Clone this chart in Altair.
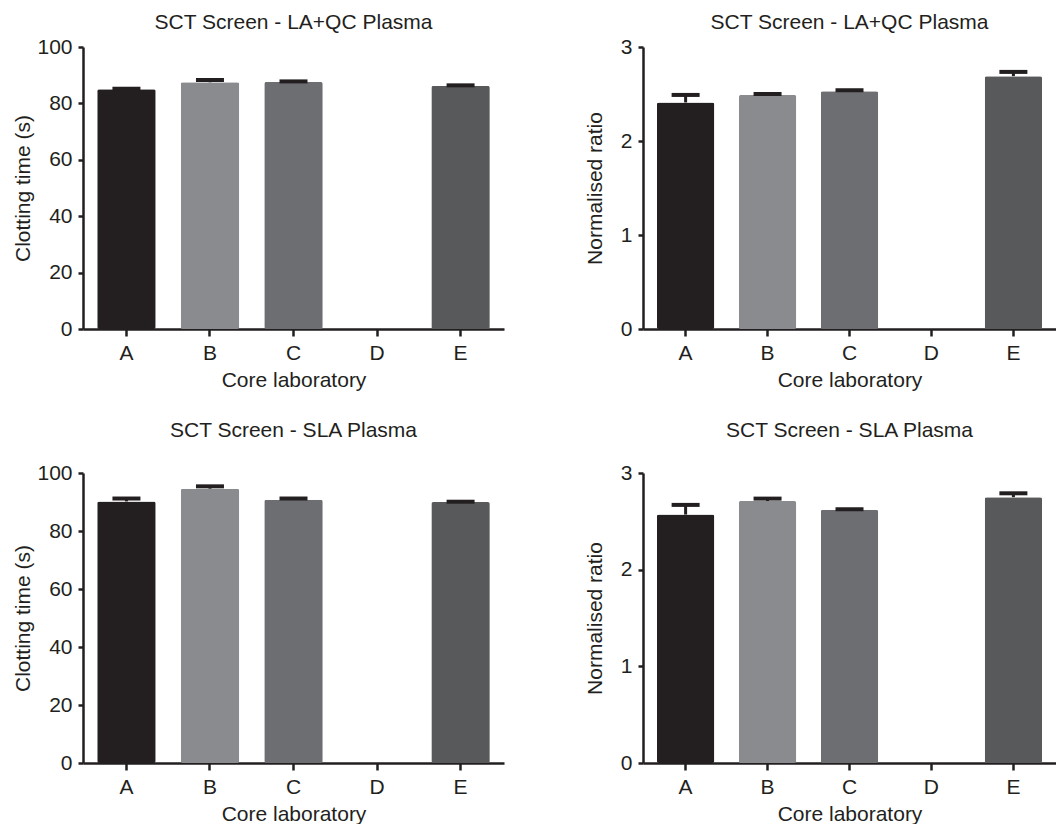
import altair as alt
import pandas as pd

labs = ["A", "B", "C", "D", "E"]
colors = ["#231f20", "#8a8b8f", "#6d6e72", "#ffffff", "#58595b"]

ct_laqc_mean = [85.0, 87.5, 87.6, None, 86.2]
ct_laqc_err = [0.2, 0.8, 0.2, None, 0.2]
nr_laqc_mean = [2.41, 2.49, 2.53, None, 2.69]
nr_laqc_err = [0.08, 0.01, 0.01, None, 0.045]
ct_sla_mean = [90.2, 94.6, 90.8, None, 90.0]
ct_sla_err = [1.0, 0.8, 0.4, None, 0.1]
nr_sla_mean = [2.57, 2.71, 2.62, None, 2.75]
nr_sla_err = [0.10, 0.025, 0.005, None, 0.04]

ct_ticks = [0, 20, 40, 60, 80, 100]
nr_ticks = [0, 1, 2, 3]

INK = "#231f20"
FONT = "Liberation Sans"


def panel(title, mean, err, ytitle, ymax, yvals, w, h, toff, tpad):
    df = pd.DataFrame({"lab": labs, "mean": mean, "err": err})
    df["upper"] = df["mean"] + df["err"]
    x = alt.X(
        "lab:N",
        scale=alt.Scale(domain=labs, paddingInner=0.3, paddingOuter=0.17),
        axis=alt.Axis(title="Core laboratory", labelAngle=0),
    )
    yscale = alt.Scale(domain=[0, ymax], nice=False)
    base = alt.Chart(df)
    bars = base.mark_bar(cornerRadius=2).encode(
        x=x,
        y=alt.Y("mean:Q", scale=yscale,
                axis=alt.Axis(title=ytitle, values=yvals, format="d", titlePadding=tpad)),
        color=alt.Color("lab:N", scale=alt.Scale(domain=labs, range=colors), legend=None),
    )
    stem = base.mark_rule(strokeWidth=3, color=INK).encode(
        x=x, y=alt.Y("mean:Q", scale=yscale), y2="upper:Q"
    )
    cap = base.mark_tick(orient="horizontal", size=28, thickness=4, color=INK, opacity=1).encode(
        x=x, y=alt.Y("upper:Q", scale=yscale)
    )
    return alt.layer(bars, stem, cap).properties(
        width=w, height=h, title=alt.TitleParams(title, offset=toff)
    )


p1 = panel("SCT Screen - LA+QC Plasma", ct_laqc_mean, ct_laqc_err, "Clotting time (s)", 100, ct_ticks, 421, 282, 3, 3)
p2 = panel("SCT Screen - LA+QC Plasma", nr_laqc_mean, nr_laqc_err, "Normalised ratio", 3, nr_ticks, 413, 282, 3, 15)
p3 = panel("SCT Screen - SLA Plasma", ct_sla_mean, ct_sla_err, "Clotting time (s)", 100, ct_ticks, 421, 290, 21, 3)
p4 = panel("SCT Screen - SLA Plasma", nr_sla_mean, nr_sla_err, "Normalised ratio", 3, nr_ticks, 413, 290, 21, 15)

chart = (
    alt.vconcat(
        alt.hconcat(p1, p2, spacing=80),
        alt.hconcat(p3, p4, spacing=80),
        spacing=30,
    )
    .properties(padding={"left": 4, "top": 4, "right": 0, "bottom": 0})
    .configure_axis(
        grid=False,
        domainColor=INK,
        domainWidth=2.5,
        tickColor=INK,
        tickWidth=2.5,
        labelFont=FONT,
        titleFont=FONT,
        labelFontSize=21,
        titleFontSize=21,
        labelColor=INK,
        titleColor=INK,
        titleFontWeight="normal",
    )
    .configure_axisX(tickSize=7, labelPadding=6, titlePadding=6)
    .configure_axisY(tickSize=5, labelPadding=6)
    .configure_title(font=FONT, fontSize=21, fontWeight="normal", color=INK, anchor="middle")
    .configure_view(stroke=None)
)

chart.save("out.html", embed_options={"renderer": "svg", "actions": False})
